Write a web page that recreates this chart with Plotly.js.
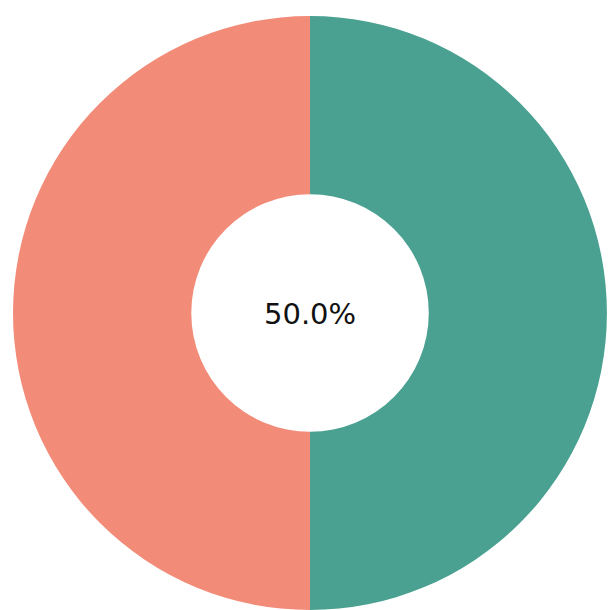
<!DOCTYPE html>
<html>
<head>
<meta charset="utf-8">
<script src="https://cdn.plot.ly/plotly-3.0.1.min.js"></script>
<style>
html,body{margin:0;padding:0;background:#fff;}
#chart{width:608px;height:610px;}
</style>
</head>
<body>
<div id="chart"></div>
<script>
const labels = ["Share A", "Share B"];
const values = [50, 50];
const colors = ["#4AA191", "#F28B78"];
const centerText = (100 * values[0] / (values[0] + values[1])).toFixed(1) + "%";

Plotly.newPlot("chart", [{
  type: "pie",
  labels: labels,
  values: values,
  hole: 0.4,
  sort: false,
  direction: "clockwise",
  rotation: 0,
  textinfo: "none",
  hoverinfo: "none",
  marker: {colors: colors, line: {width: 0}},
  domain: {x: [0.0214, 0.9984], y: [0, 0.9738]}
}], {
  width: 608,
  height: 610,
  margin: {l: 0, r: 0, t: 0, b: 0},
  showlegend: false,
  paper_bgcolor: "#ffffff",
  annotations: [{
    text: centerText,
    x: 0.5099, y: 0.4855, xref: "paper", yref: "paper",
    showarrow: false,
    font: {family: "DejaVu Sans", size: 29, color: "#111111"}
  }]
}, {displayModeBar: false, staticPlot: true});
</script>
</body>
</html>
